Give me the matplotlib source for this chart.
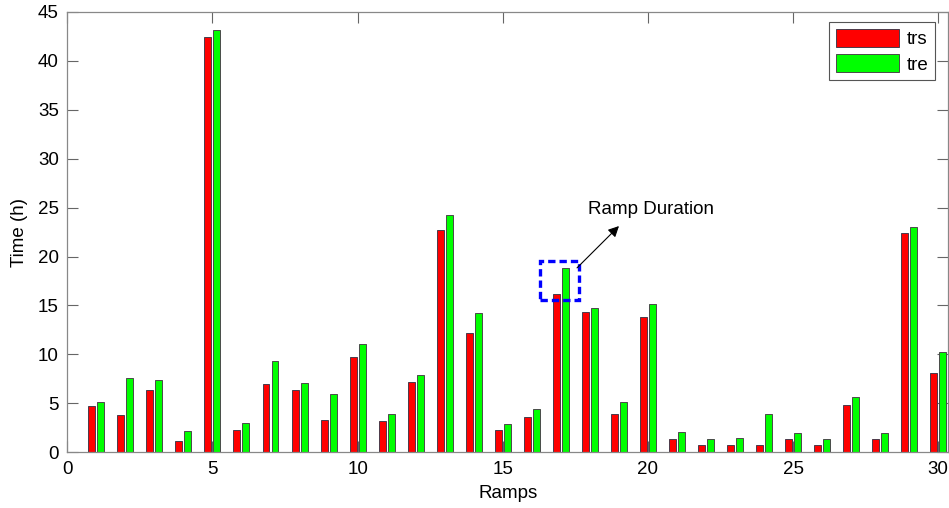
import numpy as np
import matplotlib
matplotlib.use("Agg")
import matplotlib.pyplot as plt
from matplotlib.patches import Rectangle

plt.rcParams['font.family'] = ['Liberation Sans', 'DejaVu Sans']

# Ramp index and the two measured times (hours)
ramps = np.arange(1, 31)
trs = [4.70, 3.78, 6.41, 1.19, 42.45, 2.25, 6.99, 6.37, 3.34, 9.75,
       3.17, 7.16, 22.67, 12.20, 2.25, 3.65, 16.12, 14.31, 3.95, 13.84,
       1.33, 0.75, 0.75, 0.75, 1.33, 0.75, 4.87, 1.33, 22.40, 8.08]
tre = [5.15, 7.57, 7.43, 2.21, 43.10, 3.03, 9.30, 7.12, 5.93, 11.11,
       3.95, 7.91, 24.20, 14.28, 2.86, 4.40, 18.85, 14.76, 5.15, 15.20,
       2.11, 1.33, 1.50, 3.95, 1.98, 1.33, 5.62, 1.94, 23.00, 10.22]
series_names = ["trs", "tre"]
xticks = [0, 5, 10, 15, 20, 25, 30]
yticks = [0, 5, 10, 15, 20, 25, 30, 35, 40, 45]

fig = plt.figure(figsize=(9.49, 5.08), dpi=100)
ax = fig.add_axes([0.0709, 0.1096, 0.9282, 0.8673])

bw = 0.24
off = 0.155
ax.bar(ramps - off, trs, width=bw, color='#FF0000', edgecolor='#4a3a4a',
       linewidth=0.7, label=series_names[0], zorder=2)
ax.bar(ramps + off, tre, width=bw, color='#00FF00', edgecolor='#4a4a4a',
       linewidth=0.7, label=series_names[1], zorder=2)

ax.set_xlim(0, 30.34)
ax.set_ylim(0, 45)
ax.set_xticks(xticks)
ax.set_yticks(yticks)
ax.tick_params(direction='in', length=8, width=0.8, color='#666666',
               labelsize=13.5, top=True, right=True, pad=6)
for s in ax.spines.values():
    s.set_color('#888888')
    s.set_linewidth(0.9)
ax.set_axisbelow(True)

ax.set_xlabel("Ramps", fontsize=13.5, labelpad=5)
ax.set_ylabel("Time (h)", fontsize=13.5, labelpad=7)

# highlight box around one ramp with a note
ax.add_patch(Rectangle((16.28, 15.57), 1.35, 3.92, fill=False,
                       edgecolor='#0000FF', linewidth=2.4,
                       linestyle=(0, (2.2, 1.2)), zorder=3))
ax.annotate("", xy=(19.07, 23.31), xytext=(17.49, 18.64),
            arrowprops=dict(arrowstyle='-|>', color='black', lw=0.8,
                            mutation_scale=16), zorder=4)
ax.text(20.1, 24.8, "Ramp Duration", fontsize=13.5, ha='center', va='center')

leg = ax.legend(loc='upper right', bbox_to_anchor=(0.9853, 0.9766),
                borderaxespad=0, fontsize=13.5, handlelength=3.4,
                handleheight=1.15, handletextpad=0.4, labelspacing=0.3,
                borderpad=0.35, fancybox=False, framealpha=1)
leg.get_frame().set_edgecolor('#555555')
leg.get_frame().set_linewidth(0.8)

fig.savefig("out.png", dpi=100)
